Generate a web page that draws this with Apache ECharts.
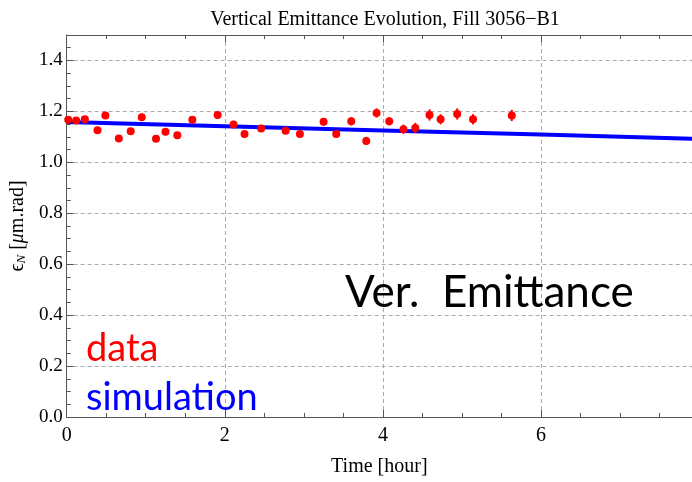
<!DOCTYPE html>
<html>
<head>
<meta charset="utf-8">
<script src="https://cdn.jsdelivr.net/npm/echarts@6/dist/echarts.min.js"></script>
<style>
  html, body { margin: 0; padding: 0; background: #fff; }
  #chart { width: 692px; height: 482px; }
</style>
</head>
<body>
<div id="chart"></div>
<script>
// Measured vertical emittance (hours, µm.rad) with its uncertainty
var dataTime = [0.02, 0.12, 0.23, 0.39, 0.49, 0.66, 0.81, 0.95, 1.13, 1.25, 1.40, 1.59, 1.91, 2.11, 2.25, 2.46, 2.77, 2.95,
                3.25, 3.41, 3.60, 3.79, 3.92, 4.08, 4.26, 4.41, 4.59, 4.73, 4.94, 5.14, 5.63];
var dataEmit = [1.167, 1.164, 1.169, 1.126, 1.184, 1.094, 1.122, 1.177, 1.093, 1.120, 1.106, 1.167, 1.186, 1.149, 1.111, 1.133, 1.124, 1.111,
                1.159, 1.111, 1.161, 1.084, 1.194, 1.161, 1.130, 1.135, 1.186, 1.169, 1.190, 1.169, 1.184];
var dataErr  = [0.012, 0.012, 0.012, 0.014, 0.014, 0.012, 0.012, 0.014, 0.012, 0.014, 0.012, 0.014, 0.014, 0.014, 0.012, 0.012, 0.012, 0.012,
                0.014, 0.014, 0.016, 0.016, 0.018, 0.016, 0.018, 0.020, 0.022, 0.020, 0.022, 0.020, 0.022];

// Simulated emittance growth
var simTime = [0, 2, 4, 6, 8];
var simEmit = [1.158, 1.142, 1.125, 1.109, 1.092];

// Axis ticks
var xTicks = [0, 2, 4, 6];
var yTicks = [0.0, 0.2, 0.4, 0.6, 0.8, 1.0, 1.2, 1.4];

var serif = '"Liberation Serif", "DejaVu Serif", serif';
var sans = 'Lato, "Open Sans", sans-serif';
var axisColor = '#555';

var points = dataTime.map(function (t, i) { return [t, dataEmit[i], dataErr[i]]; });
var simLine = simTime.map(function (t, i) { return [t, simEmit[i]]; });

var chart = echarts.init(document.getElementById('chart'), null, { renderer: 'canvas' });

function fmtX(v) { return xTicks.indexOf(v) >= 0 ? String(v) : ''; }
function fmtY(v) {
  for (var i = 0; i < yTicks.length; i++) {
    if (Math.abs(yTicks[i] - v) < 1e-6) return yTicks[i].toFixed(1);
  }
  return '';
}

chart.setOption({
  animation: false,
  backgroundColor: '#fff',
  grid: { left: 66, right: 0, top: 35, bottom: 54, containLabel: false },
  xAxis: [{
    type: 'value', min: 0, max: 7.91, interval: 2,
    name: 'Time [hour]', nameLocation: 'middle', nameGap: 40,
    nameTextStyle: { fontFamily: serif, fontSize: 20, color: '#000' },
    axisLine: { show: true, onZero: false, lineStyle: { color: axisColor, width: 1 } },
    axisTick: { show: true, inside: true, length: 7, lineStyle: { color: axisColor } },
    minorTick: { show: true, splitNumber: 4, length: 4, lineStyle: { color: axisColor } },
    axisLabel: { fontFamily: serif, fontSize: 20, color: '#000', margin: 9, showMaxLabel: false, formatter: fmtX },
    splitLine: { show: true, lineStyle: { color: '#aaa', type: [4, 3], width: 1 } }
  }, {
    type: 'value', position: 'top', min: 0, max: 7.91, interval: 2,
    axisLine: { show: true, onZero: false, lineStyle: { color: axisColor, width: 1 } },
    axisTick: { show: true, inside: true, length: 7, lineStyle: { color: axisColor } },
    minorTick: { show: true, splitNumber: 4, length: 4, lineStyle: { color: axisColor } },
    axisLabel: { show: false }, splitLine: { show: false }
  }],
  yAxis: [{
    type: 'value', min: 0, max: 1.5, interval: 0.2,
    name: '{e|ϵ}{s|N}{e| [}{i|μ}{e|m.rad]}', nameLocation: 'middle', nameGap: 33, nameRotate: 90,
    nameTextStyle: {
      rich: {
        e: { fontFamily: serif, fontSize: 20, color: '#000' },
        i: { fontFamily: serif, fontSize: 20, fontStyle: 'italic', color: '#000' },
        s: { fontFamily: serif, fontSize: 13, fontStyle: 'italic', color: '#000', verticalAlign: 'bottom', padding: [7, 0, 0, 0] }
      }
    },
    axisLine: { show: true, onZero: false, lineStyle: { color: axisColor, width: 1 } },
    axisTick: { show: true, inside: true, length: 7, lineStyle: { color: axisColor } },
    minorTick: { show: true, splitNumber: 4, length: 4, lineStyle: { color: axisColor } },
    axisLabel: { fontFamily: serif, fontSize: 19, color: '#000', margin: 4, showMaxLabel: false, formatter: fmtY },
    splitLine: { show: true, lineStyle: { color: '#aaa', type: [4, 3], width: 1 } }
  }],
  graphic: [
    { type: 'text', z: 10, style: { x: 385, y: 20, text: 'Vertical Emittance Evolution, Fill 3056\u2212B1',
        font: '20px ' + serif, fill: '#000', align: 'center', verticalAlign: 'middle' } },
    { type: 'text', z: 10, style: { x: 345, y: 293, text: 'Ver.  Emittance',
        font: '44px ' + sans, fill: '#000', align: 'left', verticalAlign: 'middle' } },
    { type: 'text', z: 10, style: { x: 86, y: 349, text: 'data',
        font: '38px ' + sans, fill: '#ff0000', align: 'left', verticalAlign: 'middle' } },
    { type: 'text', z: 10, style: { x: 86, y: 398, text: 'simulation',
        font: '38px ' + sans, fill: '#0000ff', align: 'left', verticalAlign: 'middle' } }
  ],
  series: [
    {
      type: 'line', data: simLine, showSymbol: false, symbol: 'none',
      lineStyle: { color: '#0000ff', width: 4 }, z: 3
    },
    {
      type: 'custom', z: 4,
      data: points,
      renderItem: function (params, api) {
        var t = api.value(0), v = api.value(1), e = api.value(2);
        var c = api.coord([t, v]);
        var hi = api.coord([t, v + e]);
        var lo = api.coord([t, v - e]);
        return {
          type: 'group',
          children: [
            { type: 'line', shape: { x1: c[0], y1: hi[1], x2: c[0], y2: lo[1] },
              style: { stroke: '#ff0000', lineWidth: 2 } },
            { type: 'circle', shape: { cx: c[0], cy: c[1], r: 4 },
              style: { fill: '#ff0000' } }
          ]
        };
      }
    }
  ]
});
</script>
</body>
</html>
